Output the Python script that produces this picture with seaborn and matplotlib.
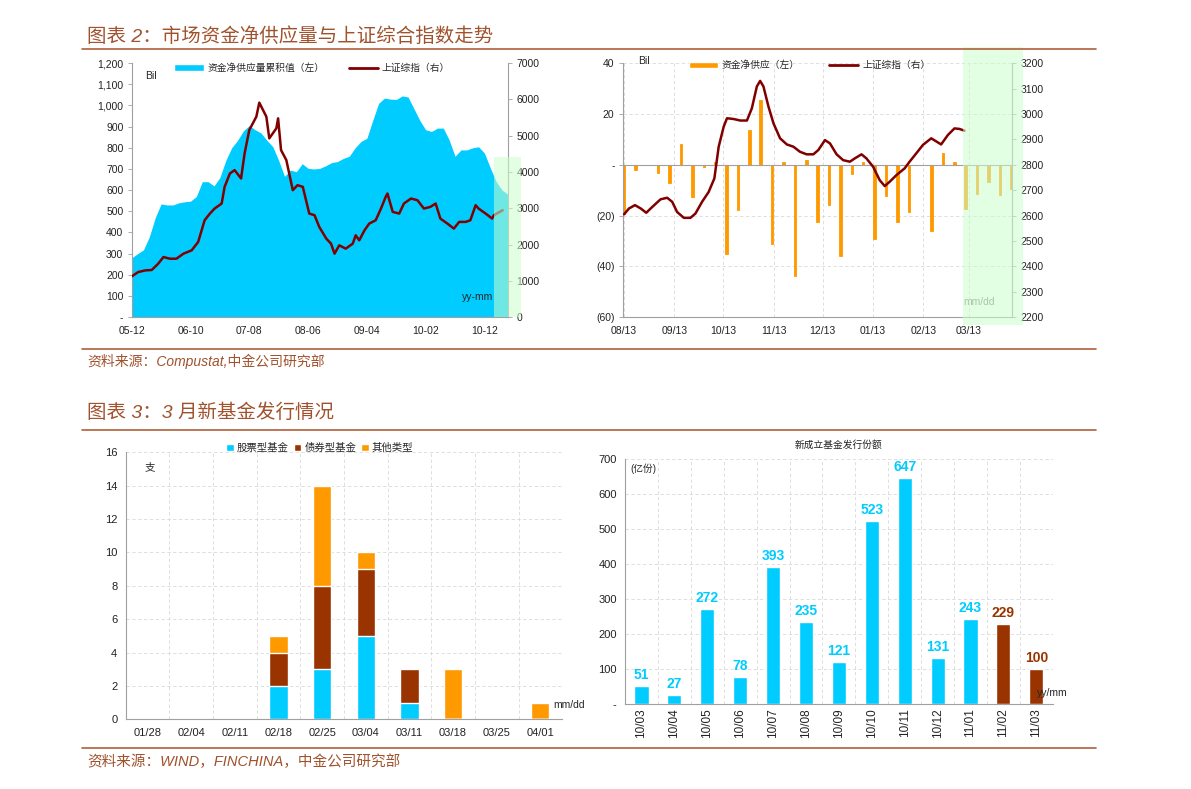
import numpy as np
import pandas as pd
import matplotlib
matplotlib.use("Agg")
import matplotlib.pyplot as plt
import matplotlib.transforms as mtransforms
from matplotlib.patches import Rectangle, Patch
from matplotlib.lines import Line2D
from matplotlib.ticker import FuncFormatter
import seaborn as sns

# --- Theme ---
sns.set_theme(style="white")
plt.rcParams['font.family'] = ['Liberation Sans', 'Noto Sans CJK SC', 'DejaVu Sans']
plt.rcParams['axes.unicode_minus'] = False

BLUE = '#00CCFF'
DARKRED = '#800000'
ORANGE = '#FF9900'
BROWN = '#993300'
HEAD = '#A0522D'
RULE = '#B0603A'
SPINE = '#A0A0A0'
GRID = '#D9D9D9'
GREEN = '#CCFFCC'

# --- Chart 2 left: monthly since 2005-12 ---
supply_cum = [280, 300, 318, 380, 470, 535, 530, 530, 540, 545, 548, 570, 640, 640, 620, 660,
              740, 800, 835, 880, 905, 885, 870, 835, 805, 740, 665, 695, 687, 725, 703, 700,
              703, 715, 730, 735, 750, 760, 800, 830, 845, 930, 1010, 1035, 1030, 1028, 1045,
              1040, 985, 930, 885, 877, 893, 893, 837, 760, 790, 790, 800, 805, 775, 705, 640,
              600, 580]
sh_month = [0, 1.1, 2.3, 3.4, 4.5, 5.4, 6.5, 7.6, 8.8, 10.2, 11.3, 12.4, 13.3, 14.1, 15.3, 15.8,
            16.7, 17.5, 18.6, 19.2, 20.0, 21.2, 21.7, 22.9, 23.4, 24.6, 24.9, 25.4, 26.3, 27.4,
            28.2, 29.1, 30.2, 31.1, 31.9, 33.1, 33.9, 34.5, 35.3, 36.4, 37.6, 38.1, 38.7, 39.6,
            40.4, 41.5, 42.4, 43.2, 43.5, 44.4, 45.5, 46.3, 47.5, 48.6, 49.7, 50.8, 51.7, 52.5,
            53.7, 54.8, 55.7, 56.8, 57.6, 58.5, 59.0, 60.2, 61.3, 61.6, 63.1]
sh_index = [1124, 1243, 1289, 1300, 1473, 1657, 1611, 1611, 1750, 1842, 2072, 2670, 2855, 2993,
            3131, 3591, 3960, 4052, 3822, 4512, 5157, 5525, 5911, 5525, 4927, 5203, 5479, 4604,
            4328, 3499, 3637, 3591, 2855, 2809, 2487, 2164, 2026, 1750, 1980, 1888, 2026, 2256,
            2118, 2395, 2579, 2670, 2993, 3315, 3407, 2901, 2855, 3131, 3269, 3223, 2993, 3039,
            3131, 2717, 2579, 2441, 2625, 2625, 2670, 3085, 2993, 2855, 2717, 2809, 2947]
month_ticks = [0, 10, 20, 30, 40, 50, 60]
month_labels = ['05-12', '06-10', '07-08', '08-06', '09-04', '10-02', '10-12']

# --- Chart 2 right: weekly since 2012-08-13 ---
week_supply = [-19.3, -2.2, 0, -3.2, -7.2, 8.3, -12.8, -0.9, 1, -35.1, -18, 13.6, 25.4, -31.2,
               1, -43.7, 2, -22.6, -16, -35.8, -3.8, 1, -29.2, -12.4, -22.6, -18.7, 0, -26.2,
               4.6, 1, -17.4, -11.4, -6.8, -12.1, -9.5]
sh_week = [0, 0.44, 0.96, 1.46, 1.95, 2.48, 3.21, 3.79, 4.23, 4.66, 5.25, 5.83, 6.27, 6.85,
           7.43, 7.93, 8.31, 8.75, 9.04, 9.62, 10.2, 10.79, 11.22, 11.66, 11.95, 12.24, 12.68,
           13.12, 13.7, 14.29, 14.87, 15.45, 16.03, 16.62, 17.06, 17.64, 18.08, 18.66, 19.24,
           19.83, 20.26, 20.85, 21.28, 21.87, 22.45, 22.89, 23.32, 23.91, 24.64, 25.07, 25.66,
           26.24, 26.97, 27.84, 28.43, 29.01, 29.45, 29.88]
sh_week_index = [2605, 2628, 2641, 2628, 2611, 2634, 2664, 2670, 2654, 2614, 2591, 2591, 2608,
                 2654, 2693, 2746, 2871, 2950, 2983, 2980, 2974, 2974, 3022, 3108, 3130, 3108,
                 3029, 2963, 2904, 2880, 2871, 2851, 2841, 2841, 2858, 2897, 2884, 2841, 2818,
                 2812, 2825, 2841, 2825, 2792, 2739, 2716, 2733, 2759, 2786, 2812, 2845, 2878,
                 2904, 2880, 2917, 2943, 2941, 2934]
week_tick_days = [0, 31, 61, 92, 122, 153, 184, 212]
week_tick_labels = ['08/13', '09/13', '10/13', '11/13', '12/13', '01/13', '02/13', '03/13']

# --- Chart 3 left: weekly new funds ---
fund_weeks = ['01/28', '02/04', '02/11', '02/18', '02/25', '03/04', '03/11', '03/18', '03/25', '04/01']
equity = [0, 0, 0, 2, 3, 5, 1, 0, 0, 0]
bond = [0, 0, 0, 2, 5, 4, 2, 0, 0, 0]
other = [0, 0, 0, 1, 6, 1, 0, 3, 0, 1]

# --- Chart 3 right: monthly issuance ---
issue_months = ['10/03', '10/04', '10/05', '10/06', '10/07', '10/08', '10/09', '10/10',
                '10/11', '10/12', '11/01', '11/02', '11/03']
issue_amount = [51, 27, 272, 78, 393, 235, 121, 523, 647, 131, 243, 229, 100]


def base_style(ax, fs=7.5):
    for s in ['top', 'right']:
        ax.spines[s].set_visible(False)
    for s in ['left', 'bottom']:
        ax.spines[s].set_color(SPINE)
        ax.spines[s].set_linewidth(0.8)
    ax.tick_params(axis='both', labelsize=fs, colors='#222222', length=3, width=0.6,
                   color=SPINE, pad=3)
    ax.set_xlabel('')
    ax.set_ylabel('')


def dashed_grid(ax, axis='both'):
    ax.grid(True, axis=axis, color=GRID, linestyle=(0, (4, 3)), linewidth=0.6)
    ax.set_axisbelow(True)


def twin_style(axr, fs=7.5):
    for s in ['top', 'left', 'bottom']:
        axr.spines[s].set_visible(False)
    axr.spines['right'].set_color(SPINE)
    axr.spines['right'].set_linewidth(0.8)
    axr.tick_params(axis='y', labelsize=fs, colors='#222222', length=3, width=0.6, color=SPINE, pad=3)
    axr.set_ylabel('')
    axr.grid(False)


fig = plt.figure(figsize=(11.91, 7.89), dpi=100)

# ---------- Headers and rules ----------
for y in [0.9379, 0.5577, 0.455, 0.052]:
    fig.add_artist(Line2D([0.0688, 0.920], [y, y], transform=fig.transFigure, color=RULE, lw=1.2))
fig.text(0.073, 0.953, '图表 2：市场资金净供应量与上证综合指数走势', fontsize=14, color=HEAD,
         style='italic', va='center')
fig.text(0.073, 0.5425, '资料来源：Compustat,中金公司研究部', fontsize=10, color=HEAD,
         style='italic', va='center')
fig.text(0.073, 0.4766, '图表 3：3 月新基金发行情况', fontsize=14, color=HEAD,
         style='italic', va='center')
fig.text(0.073, 0.0342, '资料来源：WIND，FINCHINA，中金公司研究部', fontsize=10.5, color=HEAD,
         style='italic', va='center')

# ---------- Chart 2 left ----------
ax1 = fig.add_axes([0.1106, 0.598, 0.3159, 0.322])
months = np.arange(len(supply_cum))
ax1.fill_between(months, supply_cum, color=BLUE, lw=0)
base_style(ax1)
ax1.set_xlim(0, 64)
ax1.set_ylim(0, 1200)
ax1.set_yticks(range(0, 1201, 100))
ax1.yaxis.set_major_formatter(FuncFormatter(lambda v, p: '-' if v == 0 else f'{int(v):,}'))
ax1.set_xticks(month_ticks)
ax1.set_xticklabels(month_labels)
ax1.text(0.035, 0.95, 'Bil', transform=ax1.transAxes, fontsize=7.5, va='center')
ax1.text(0.919, 0.079, 'yy-mm', transform=ax1.transAxes, fontsize=7.5, va='center', ha='center')

ax1r = ax1.twinx()
sns.lineplot(x=sh_month, y=sh_index, ax=ax1r, color=DARKRED, lw=1.8, estimator=None)
twin_style(ax1r)
ax1r.set_ylim(0, 7000)
ax1r.set_yticks(range(0, 7001, 1000))
ax1r.set_xlim(0, 64)
ax1r.add_patch(Rectangle((61.6, 0), 4.6, 4422, facecolor=GREEN, alpha=0.55, lw=0,
                         clip_on=False, zorder=5))
h1 = [Patch(facecolor=BLUE), Line2D([], [], color=DARKRED, lw=2)]
ax1r.legend(h1, ['资金净供应量累积值（左）', '上证综指（右）'], loc='upper center',
            bbox_to_anchor=(0.48, 1.035), ncol=2, frameon=False, fontsize=7,
            handlelength=3, columnspacing=2.5, handletextpad=0.4)

# ---------- Chart 2 right ----------
ax2 = fig.add_axes([0.523, 0.598, 0.3266, 0.322])
weeks = np.arange(len(week_supply))
sns.barplot(x=weeks, y=week_supply, native_scale=True, color=ORANGE, saturation=1,
            width=0.22, errorbar=None, edgecolor=ORANGE, linewidth=0.6, ax=ax2)
base_style(ax2)
dashed_grid(ax2)
ax2.axhline(0, color=SPINE, lw=0.8, zorder=1)
ax2.set_ylim(-60, 40)
ax2.set_yticks(range(-60, 41, 20))
ax2.yaxis.set_major_formatter(FuncFormatter(
    lambda v, p: '-' if v == 0 else (f'({abs(int(v))})' if v < 0 else f'{int(v)}')))
ax2.set_xticks([d / 7 for d in week_tick_days])
ax2.set_xticklabels(week_tick_labels)
ax2.set_xlim(-0.1, 34.05)
ax2.text(0.039, 1.01, 'Bil', transform=ax2.transAxes, fontsize=7.5, va='center')
ax2.text(0.874, 0.059, 'mm/dd', transform=ax2.transAxes, fontsize=7.5, va='center',
         color='#808080')

ax2r = ax2.twinx()
sns.lineplot(x=sh_week, y=sh_week_index, ax=ax2r, color=DARKRED, lw=1.8, estimator=None)
twin_style(ax2r)
ax2r.set_ylim(2200, 3200)
ax2r.set_yticks(range(2200, 3201, 100))
ax2r.set_xlim(-0.1, 34.05)
blend = mtransforms.blended_transform_factory(ax2r.transData, ax2r.transAxes)
ax2r.add_patch(Rectangle((29.8, -0.031), 5.2, 1.094, transform=blend, facecolor=GREEN,
                         alpha=0.55, lw=0, clip_on=False, zorder=5))
h2 = [Patch(facecolor=ORANGE), Line2D([], [], color=DARKRED, lw=2)]
ax2r.legend(h2, ['资金净供应（左）', '上证综指（右）'], loc='upper center',
            bbox_to_anchor=(0.48, 1.045), ncol=2, frameon=False, fontsize=7,
            handlelength=3, columnspacing=3, handletextpad=0.4)

# ---------- Chart 3 left ----------
ax3 = fig.add_axes([0.1055, 0.0884, 0.3665, 0.3383])
totals = [e + b + o for e, b, o in zip(equity, bond, other)]
eq_bond = [e + b for e, b in zip(equity, bond)]
sns.barplot(x=fund_weeks, y=totals, color=ORANGE, saturation=1, width=0.42, errorbar=None, ax=ax3)
sns.barplot(x=fund_weeks, y=eq_bond, color=BROWN, saturation=1, width=0.42, errorbar=None, ax=ax3)
sns.barplot(x=fund_weeks, y=equity, color=BLUE, saturation=1, width=0.42, errorbar=None, ax=ax3)
base_style(ax3, fs=8)
ax3.set_ylim(0, 16)
ax3.set_yticks(range(0, 17, 2))
ax3.set_xlim(-0.5, 9.5)
ax3.set_xticks(np.arange(-0.5, 10, 1), minor=True)
ax3.grid(True, axis='y', color=GRID, linestyle=(0, (4, 3)), linewidth=0.6)
ax3.grid(True, axis='x', which='minor', color=GRID, linestyle=(0, (4, 3)), linewidth=0.6)
ax3.set_axisbelow(True)
ax3.tick_params(axis='x', which='major', length=0, pad=6)
ax3.tick_params(axis='x', which='minor', length=3, color=SPINE)
ax3.text(0.044, 0.945, '支', transform=ax3.transAxes, fontsize=7.5, va='center')
ax3.text(0.979, 0.054, 'mm/dd', transform=ax3.transAxes, fontsize=7.5, va='center')
h3 = [Patch(facecolor=BLUE), Patch(facecolor=BROWN), Patch(facecolor=ORANGE)]
ax3.legend(h3, ['股票型基金', '债券型基金', '其他类型'], loc='upper center',
           bbox_to_anchor=(0.445, 1.07), ncol=3, frameon=False, fontsize=7.5,
           handlelength=0.7, handleheight=0.7, handletextpad=0.3, columnspacing=0.5)

# ---------- Chart 3 right ----------
ax4 = fig.add_axes([0.5248, 0.1074, 0.3591, 0.3105])
bar_colors = [BLUE] * 11 + [BROWN] * 2
sns.barplot(x=issue_months, y=issue_amount, hue=issue_months, palette=bar_colors, legend=False,
            saturation=1, width=0.43, errorbar=None, ax=ax4)
base_style(ax4, fs=8)
ax4.set_ylim(0, 700)
ax4.set_yticks(range(0, 701, 100))
ax4.yaxis.set_major_formatter(FuncFormatter(lambda v, p: '-' if v == 0 else f'{int(v)}'))
ax4.set_xlim(-0.5, 12.5)
ax4.set_xticks(np.arange(-0.5, 13, 1), minor=True)
ax4.grid(True, axis='y', color=GRID, linestyle=(0, (4, 3)), linewidth=0.6)
ax4.grid(True, axis='x', which='minor', color=GRID, linestyle=(0, (4, 3)), linewidth=0.6)
ax4.set_axisbelow(True)
ax4.tick_params(axis='x', which='major', length=0, labelrotation=90, labelsize=8.5)
ax4.tick_params(axis='x', which='minor', length=3, color=SPINE)
for i, (v, c) in enumerate(zip(issue_amount, bar_colors)):
    ax4.annotate(str(v), (i, v), xytext=(0, 3), textcoords='offset points', ha='center',
                 va='bottom', fontsize=10, fontweight='bold', color=c)
ax4.set_title('新成立基金发行份额', fontsize=7, pad=8, color='#222222')
ax4.text(0.012, 0.96, '(亿份)', transform=ax4.transAxes, fontsize=7, va='center')
ax4.text(0.963, 0.046, 'yy/mm', transform=ax4.transAxes, fontsize=7.5, va='center')

fig.savefig('out.png', dpi=100)
